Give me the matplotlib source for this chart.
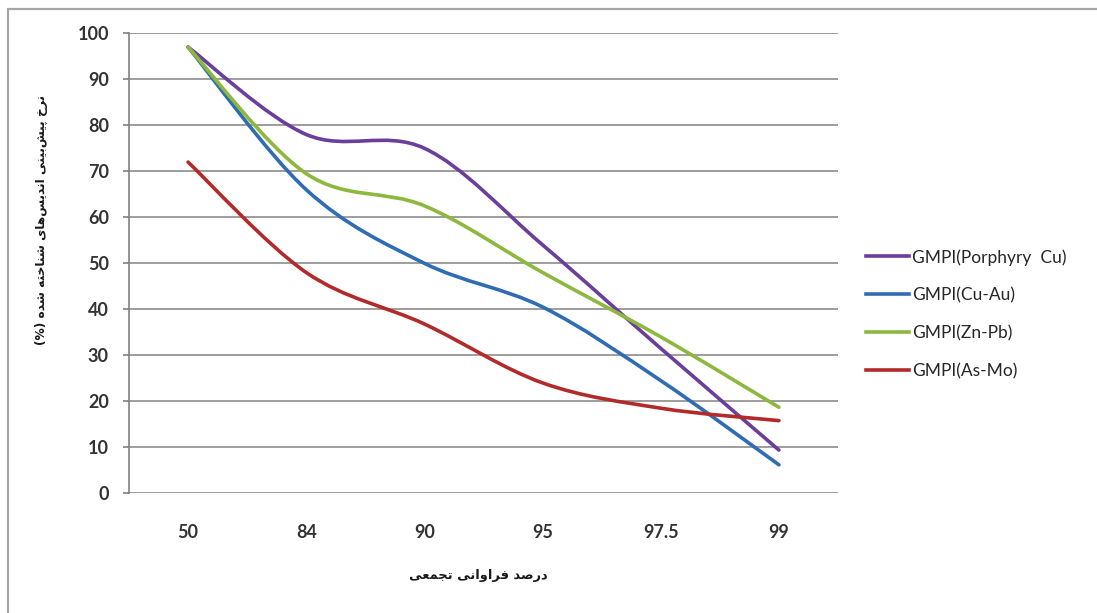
import matplotlib
matplotlib.use("Agg")
import matplotlib.pyplot as plt
from matplotlib.path import Path
from matplotlib.patches import PathPatch, Rectangle
from matplotlib.lines import Line2D

# ---- data ---------------------------------------------------------------
categories = ["50", "84", "90", "95", "97.5", "99"]
porphyry_cu = [97, 78, 75, 54, 31.5, 9.4]
cu_au = [97, 66, 50, 40.5, 24.5, 6.2]
zn_pb = [97, 69.5, 62.5, 48, 34, 18.7]
as_mo = [72, 48, 36.8, 24, 18.5, 15.8]
series_labels = ["GMPI(Porphyry  Cu)", "GMPI(Cu-Au)", "GMPI(Zn-Pb)", "GMPI(As-Mo)"]
y_ticks = [0, 10, 20, 30, 40, 50, 60, 70, 80, 90, 100]

x_title = "درصد فراوانی تجمعی"
y_title = "نرخ پیش\u200cبینی اندیس\u200cهای شناخته شده (%)"

colors = ["#6B3F99", "#2F6CB3", "#8DB83E", "#B22A2A"]

# ---- minimal Persian shaping (contextual forms + visual order) ----------
FORMS = {
    "\u0627": ("\uFE8D", "\uFE8E", None, None),
    "\u0628": ("\uFE8F", "\uFE90", "\uFE91", "\uFE92"),
    "\u067E": ("\uFB56", "\uFB57", "\uFB58", "\uFB59"),
    "\u062A": ("\uFE95", "\uFE96", "\uFE97", "\uFE98"),
    "\u062C": ("\uFE9D", "\uFE9E", "\uFE9F", "\uFEA0"),
    "\u062E": ("\uFEA5", "\uFEA6", "\uFEA7", "\uFEA8"),
    "\u062F": ("\uFEA9", "\uFEAA", None, None),
    "\u0631": ("\uFEAD", "\uFEAE", None, None),
    "\u0633": ("\uFEB1", "\uFEB2", "\uFEB3", "\uFEB4"),
    "\u0634": ("\uFEB5", "\uFEB6", "\uFEB7", "\uFEB8"),
    "\u0635": ("\uFEB9", "\uFEBA", "\uFEBB", "\uFEBC"),
    "\u0639": ("\uFEC9", "\uFECA", "\uFECB", "\uFECC"),
    "\u0641": ("\uFED1", "\uFED2", "\uFED3", "\uFED4"),
    "\u0645": ("\uFEE1", "\uFEE2", "\uFEE3", "\uFEE4"),
    "\u0646": ("\uFEE5", "\uFEE6", "\uFEE7", "\uFEE8"),
    "\u0647": ("\uFEE9", "\uFEEA", "\uFEEB", "\uFEEC"),
    "\u0648": ("\uFEED", "\uFEEE", None, None),
    "\u06CC": ("\uFBFC", "\uFBFD", "\uFBFE", "\uFBFF"),
}


def shape_fa(text):
    text = text.replace("\u064A", "\u06CC")
    chars = list(text)
    out = []
    for i, c in enumerate(chars):
        if c not in FORMS:
            if c != "\u200c":
                out.append(c)
            continue
        prev = chars[i - 1] if i > 0 else None
        nxt = chars[i + 1] if i + 1 < len(chars) else None
        joins_prev = prev in FORMS and FORMS[prev][2] is not None
        joins_next = FORMS[c][2] is not None and nxt in FORMS
        iso, fin, ini, med = FORMS[c]
        if joins_prev and joins_next:
            out.append(med)
        elif joins_prev:
            out.append(fin)
        elif joins_next:
            out.append(ini)
        else:
            out.append(iso)
    vis = "".join(reversed(out))
    return vis.translate(str.maketrans("()", ")("))


def smooth_path(ys):
    """Cubic Bezier path through the points (Catmull-Rom tangents)."""
    pts = [(float(i), float(v)) for i, v in enumerate(ys)]
    n = len(pts)
    verts = [pts[0]]
    codes = [Path.MOVETO]
    for i in range(n - 1):
        p0 = pts[max(i - 1, 0)]
        p1 = pts[i]
        p2 = pts[i + 1]
        p3 = pts[min(i + 2, n - 1)]
        c1 = (p1[0] + (p2[0] - p0[0]) / 6.0, p1[1] + (p2[1] - p0[1]) / 6.0)
        c2 = (p2[0] - (p3[0] - p1[0]) / 6.0, p2[1] - (p3[1] - p1[1]) / 6.0)
        verts += [c1, c2, p2]
        codes += [Path.CURVE4] * 3
    return Path(verts, codes)


# ---- figure -------------------------------------------------------------
W, H = 1097, 613
fig = plt.figure(figsize=(W / 100, H / 100), dpi=100)
fig.patch.set_facecolor("white")

# outer chart border
fig.patches.append(Rectangle((8 / W, -0.05), 1.2, 1.05 - 9 / H,
                             transform=fig.transFigure, fill=False,
                             edgecolor="#a6a6a6", lw=1.6))

ax = fig.add_axes([129 / W, 1 - 493.3 / H, (838 - 129) / W, (493.3 - 33.3) / H])
ax.set_xlim(-0.5, len(categories) - 0.5)
ax.set_ylim(0, 100)

grid_c = "#8c8c8c"
ax.set_yticks(y_ticks)
ax.yaxis.grid(True, color=grid_c, lw=1.2)
ax.set_axisbelow(True)
for s in ["top", "right", "bottom"]:
    ax.spines[s].set_visible(False)
ax.spines["left"].set_color("#808080")
ax.spines["left"].set_linewidth(1.2)

tick_font = dict(family="Lato", weight="bold", size=13)
ax.tick_params(axis="y", length=4.5, width=1.2, color="#808080", pad=10,
               labelcolor="#333333")
ax.tick_params(axis="x", length=0, pad=22, labelcolor="#333333")
ax.set_xticks(range(len(categories)))
ax.set_xticklabels(categories, fontdict=tick_font)
ax.set_yticklabels([str(t) for t in y_ticks], fontdict=tick_font)

all_series = [porphyry_cu, cu_au, zn_pb, as_mo]
handles = []
for k, (ys, col, lab) in enumerate(zip(all_series, colors, series_labels)):
    patch = PathPatch(smooth_path(ys), fill=False, edgecolor=col, lw=2.6,
                      capstyle="round", joinstyle="round", zorder=3 + k)
    ax.add_patch(patch)
    handles.append(Line2D([], [], color=col, lw=2.6, label=lab))

fig.legend(handles=handles, loc="center left",
           bbox_to_anchor=(866 / W, 1 - 314 / H), frameon=False,
           prop=dict(family="Lato", size=12.5), labelcolor="#262626",
           handlelength=2.5, handletextpad=0.15, labelspacing=1.25,
           borderpad=0, borderaxespad=0)

fig.text(478 / W, 1 - 575 / H, shape_fa(x_title), ha="center", va="center",
         family=["DejaVu Sans"], weight="bold", size=9.4, color="#1a1a1a")
fig.text(42 / W, 1 - 220 / H, shape_fa(y_title), ha="center", va="center",
         rotation=90, family=["DejaVu Sans"], weight="bold", size=8.8,
         color="#1a1a1a")

fig.savefig("out.png", dpi=100, facecolor="white")
